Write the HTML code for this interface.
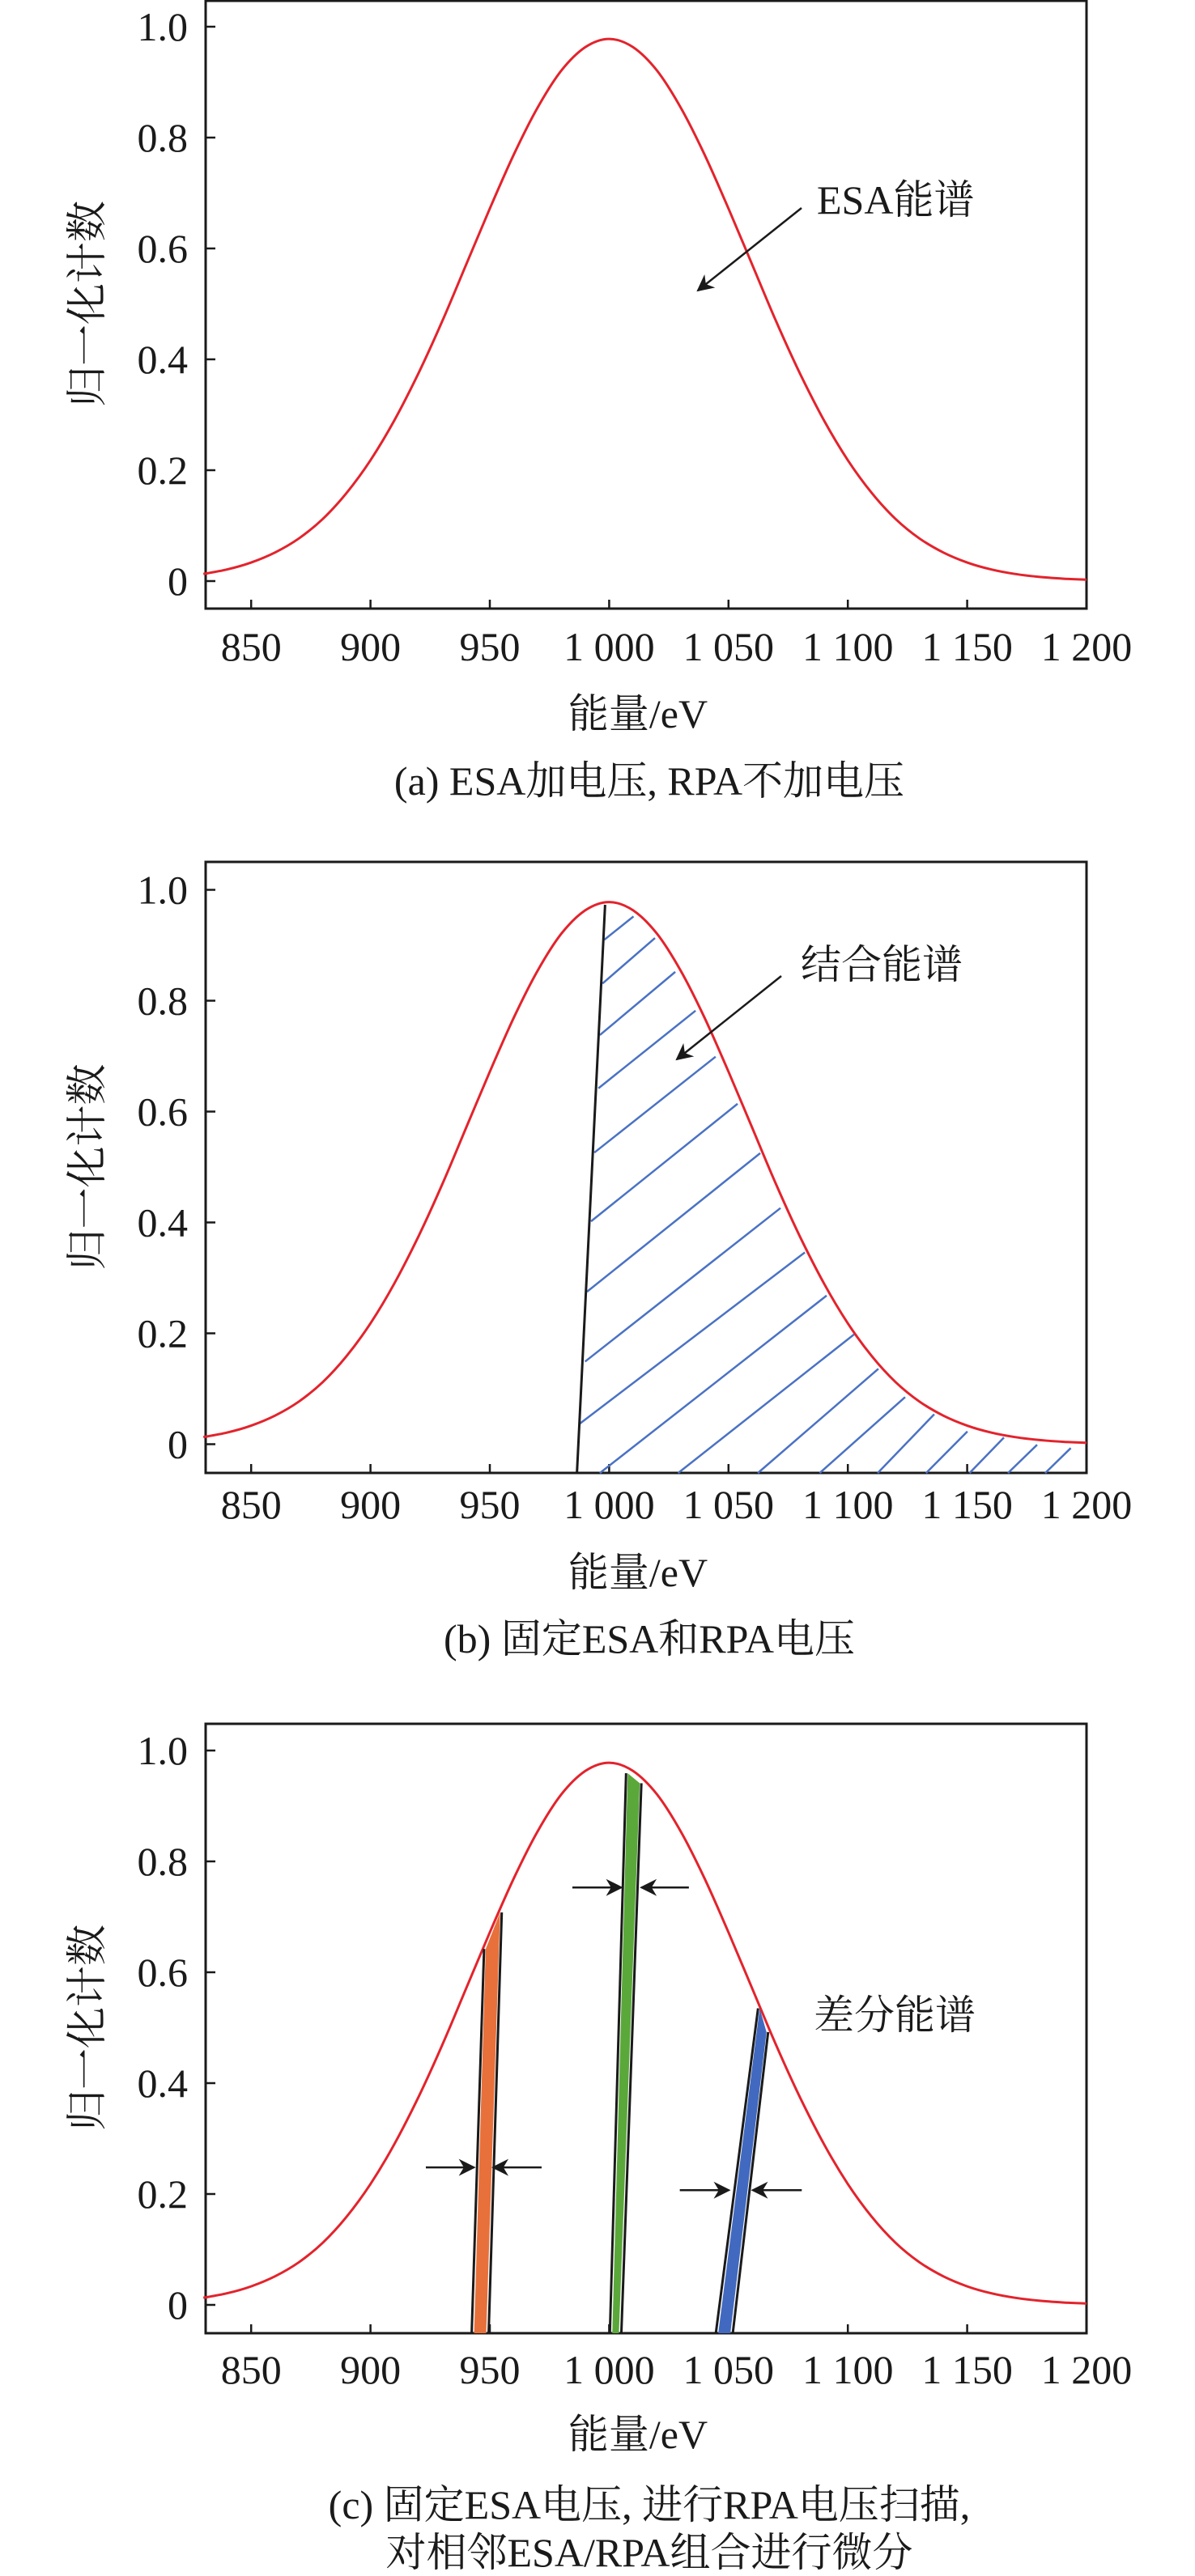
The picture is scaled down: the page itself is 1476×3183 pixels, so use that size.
<!DOCTYPE html>
<html><head><meta charset="utf-8">
<style>
html,body{margin:0;padding:0;background:#fff;}
svg{display:block;}
text{font-family:"Liberation Serif","Noto Serif CJK SC","Noto Sans CJK SC",serif;fill:#1a1a1a;}
</style></head>
<body>
<svg id="fig" width="1476" height="3183" viewBox="0 0 1476 3183" xmlns="http://www.w3.org/2000/svg">
<defs>
<marker id="ah" viewBox="0 0 10 10" refX="9" refY="5" markerWidth="7" markerHeight="7" orient="auto-start-reverse" markerUnits="userSpaceOnUse" style="overflow:visible">
<path d="M0,0 L10,5 L0,10 L3,5 z" fill="#1a1a1a" transform="scale(3)" transform-origin="9 5"/>
</marker>
</defs>
</svg>
<script>
// ---- data ----
const energies = [830,840,850,860,870,880,890,900,910,920,930,940,950,960,970,980,990,1000,1010,1020,1030,1040,1050,1060,1070,1080,1090,1100,1110,1120,1130,1140,1150,1160,1170,1180,1190,1200];
const counts = [0.0128,0.021,0.0334,0.0516,0.077,0.112,0.159,0.218,0.290,0.374,0.468,0.570,0.672,0.769,0.854,0.921,0.963,0.978,0.963,0.921,0.854,0.769,0.672,0.570,0.468,0.374,0.290,0.218,0.159,0.112,0.077,0.0516,0.0334,0.021,0.0128,0.0076,0.0044,0.0024];
const xTicks = [850,900,950,1000,1050,1100,1150,1200];
const xTickLabels = ["850","900","950","1 000","1 050","1 100","1 150","1 200"];
const yTicks = [0,0.2,0.4,0.6,0.8,1.0];
const yTickLabels = ["0","0.2","0.4","0.6","0.8","1.0"];
// panel b: cutoff line [x0,y0,x1,y1]
const cutLineB = [986.5,-0.052,998.3,0.973];
// panel b hatch lines
const hatchX0 = [998.0,997.2,996.1,995.5,993.8,992.4,990.7,989.9,987.7,996.1,1028.9,1062.3,1088.2,1112.5,1132.8,1151.0,1167.1,1182.7];
const hatchY0 = [0.910,0.831,0.738,0.642,0.526,0.402,0.275,0.149,0.037,-0.052,-0.052,-0.052,-0.052,-0.052,-0.052,-0.052,-0.052,-0.052];
const hatchX1 = [1010.2,1019.2,1027.7,1036.2,1044.6,1053.8,1063.3,1071.8,1082.0,1091.1,1102.6,1112.8,1124.0,1136.2,1150.1,1165.4,1179.3,1193.4];
const hatchY1 = [0.952,0.913,0.852,0.782,0.699,0.614,0.525,0.426,0.346,0.268,0.198,0.136,0.085,0.054,0.023,0.012,-0.001,-0.007];
// panel c strips
const stripNames = ["orange","green","blue"];
const stripColors = ["#e8703a","#5aa83a","#4169c0"];
const stripLB = [942.4,1000.3,1044.7];
const stripLT = [947.6,1007.1,1062.4];
const stripLTy = [0.642,0.959,0.535];
const stripRB = [949.5,1005.1,1051.8];
const stripRT = [955.0,1013.5,1066.6];
const stripRTy = [0.708,0.941,0.492];
// panel c arrows
const arrowY = [0.248,0.753,0.207];
const arrowLS = [923.2,984.6,1029.6];
const arrowLE = [943.4,1005.1,1050.2];
const arrowRS = [971.7,1033.4,1080.7];
const arrowRE = [951.4,1013.5,1060.1];

// ---- layout ----
const NS = "http://www.w3.org/2000/svg";
const svg = document.getElementById('fig');
const X1 = 1342, E1 = 1200, PXE = 2.948, X0 = 254;
function xs(e){ return X1 - (E1 - e) * PXE; }
function mk(tag, attrs, parent){
  const el = document.createElementNS(NS, tag);
  for (const k in attrs) el.setAttribute(k, attrs[k]);
  (parent || svg).appendChild(el);
  return el;
}
function smoothPath(px, py){
  let d = "M" + px[0].toFixed(1) + "," + py[0].toFixed(1);
  for (let i = 0; i < px.length - 1; i++){
    const p0x = px[Math.max(0,i-1)], p0y = py[Math.max(0,i-1)];
    const p3x = px[Math.min(px.length-1,i+2)], p3y = py[Math.min(px.length-1,i+2)];
    const c1x = px[i] + (px[i+1]-p0x)/6, c1y = py[i] + (py[i+1]-p0y)/6;
    const c2x = px[i+1] - (p3x-px[i])/6, c2y = py[i+1] - (p3y-py[i])/6;
    d += " C" + c1x.toFixed(1)+","+c1y.toFixed(1)+" "+c2x.toFixed(1)+","+c2y.toFixed(1)+" "+px[i+1].toFixed(1)+","+py[i+1].toFixed(1);
  }
  return d;
}

function panel(id, zeroY, top, bot, titleLines, captionY, xLabelY, xTitleY){
  const g = mk('g', {});
  
  
  const ys = v => zeroY - v * 685;
  const box = mk('rect', {x:X0, y:top, width:X1-X0, height:bot-top, fill:'none', stroke:'#1a1a1a', 'stroke-width':3}, g);
  
  
  for (let i = 0; i < yTicks.length; i++){
    const y = ys(yTicks[i]);
    const t = mk('line', {x1:X0, x2:X0+12, y1:y, y2:y, stroke:'#1a1a1a', 'stroke-width':2.5}, g);
    
    
    const l = mk('text', {x:232, y:y+17, 'font-size':50, 'text-anchor':'end'}, g);
    l.textContent = yTickLabels[i];
    
    
  }
  for (let i = 0; i < xTicks.length; i++){
    const x = xs(xTicks[i]);
    const t = mk('line', {x1:x, x2:x, y1:bot, y2:bot-11, stroke:'#1a1a1a', 'stroke-width':2.5}, g);
    
    
    const l = mk('text', {x:x, y:xLabelY+17, 'font-size':50, 'text-anchor':'middle'}, g);
    l.textContent = xTickLabels[i];
    
    
  }
  const yt = mk('text', {x:0, y:0, 'font-size':51, 'text-anchor':'middle', transform:'translate(125,' + ys(0.5) + ') rotate(-90)'}, g);
  yt.textContent = '归一化计数';
  
  
  const xt = mk('text', {x:788, y:xTitleY+17, 'font-size':50, 'text-anchor':'middle'}, g);
  xt.textContent = '能量/eV';
  
  
  for (let i = 0; i < titleLines.length; i++){
    const c = mk('text', {x:802, y:captionY[i]+17, 'font-size':50, 'text-anchor':'middle'}, g);
    c.textContent = titleLines[i];
    
    
  }
  const px = energies.map(xs), py = counts.map(ys);
  const curve = mk('path', {d:smoothPath(px, py), fill:'none', stroke:'#e3232c', 'stroke-width':3}, g);
  
  
  return {g, ys};
}

// panel a
{
  const {g} = panel('a', 718, 1, 752, ['(a) ESA加电压, RPA不加电压'], [965], 799, 882);
  const lab = mk('text', {x:1009, y:264, 'font-size':50}, g);
  lab.textContent = 'ESA能谱';
  
  
  const ar = mk('line', {x1:990, y1:257, x2:862, y2:359, stroke:'#1a1a1a', 'stroke-width':2.5, 'marker-end':'url(#ah)'}, g);
  
  
}
// panel b
{
  const {g, ys} = panel('b', 1784.5, 1065, 1820, ['(b) 固定ESA和RPA电压'], [2025], 1859, 1943);
  for (let i = 0; i < hatchX0.length; i++){
    const h = mk('line', {x1:xs(hatchX0[i]), y1:ys(hatchY0[i]), x2:xs(hatchX1[i]), y2:ys(hatchY1[i]), stroke:'#4a72c4', 'stroke-width':2.5}, g);
    
    
  }
  const cl = mk('line', {x1:xs(cutLineB[0]), y1:ys(cutLineB[1]), x2:xs(cutLineB[2]), y2:ys(cutLineB[3]), stroke:'#1a1a1a', 'stroke-width':3}, g);
  
  
  const lab = mk('text', {x:989, y:1209, 'font-size':50}, g);
  lab.textContent = '结合能谱';
  
  
  const ar = mk('line', {x1:965, y1:1206, x2:836, y2:1309, stroke:'#1a1a1a', 'stroke-width':2.5, 'marker-end':'url(#ah)'}, g);
  
  
}
// panel c
{
  const {g, ys} = panel('c', 2848, 2130, 2883, ['(c) 固定ESA电压, 进行RPA电压扫描,', '对相邻ESA/RPA组合进行微分'], [3095, 3154], 2928, 3008);
  const yb = 2883;
  for (let i = 0; i < stripNames.length; i++){
    const pts = [xs(stripLB[i])+3, yb, xs(stripLT[i])+2, ys(stripLTy[i]), xs(stripRT[i])-2, ys(stripRTy[i]), xs(stripRB[i])-3, yb].join(' ');
    const f = mk('polygon', {points:pts, fill:stripColors[i]}, g);
    
    
    const l1 = mk('line', {x1:xs(stripLB[i]), y1:yb, x2:xs(stripLT[i]), y2:ys(stripLTy[i]), stroke:'#1a1a1a', 'stroke-width':3}, g);
    
    
    const l2 = mk('line', {x1:xs(stripRB[i]), y1:yb, x2:xs(stripRT[i]), y2:ys(stripRTy[i]), stroke:'#1a1a1a', 'stroke-width':3}, g);
    
    
    const a1 = mk('line', {x1:xs(arrowLS[i]), y1:ys(arrowY[i]), x2:xs(arrowLE[i]), y2:ys(arrowY[i]), stroke:'#1a1a1a', 'stroke-width':2.5, 'marker-end':'url(#ah)'}, g);
    
    
    const a2 = mk('line', {x1:xs(arrowRS[i]), y1:ys(arrowY[i]), x2:xs(arrowRE[i]), y2:ys(arrowY[i]), stroke:'#1a1a1a', 'stroke-width':2.5, 'marker-end':'url(#ah)'}, g);
    
    
  }
  const lab = mk('text', {x:1005, y:2507, 'font-size':50}, g);
  lab.textContent = '差分能谱';
  
  
}
</script>
</body></html>
